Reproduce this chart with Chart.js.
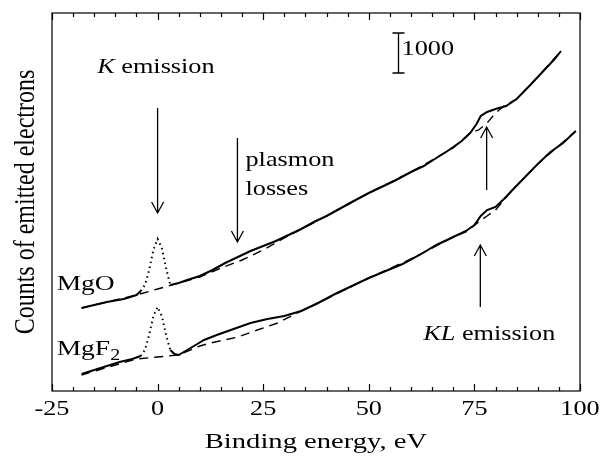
<!DOCTYPE html>
<html>
<head>
<meta charset="utf-8">
<script src="https://cdn.jsdelivr.net/npm/chart.js@4.4.1/dist/chart.umd.min.js"></script>
<style>
  html, body { margin: 0; padding: 0; background: #fff; }
</style>
</head>
<body>
<canvas id="spectrum" width="602" height="456"></canvas>
<script>
// binding energy (eV) and counts
const energyMgO = [-18, -15, -12, -8, -5, -4, -3, -2, -1, 0, 1, 2, 3, 5, 7, 10, 13, 16, 19, 22, 25, 28, 31, 34, 37, 40, 43, 46, 50, 53, 56, 60, 63, 66, 69, 72, 74, 75.5, 76.5, 78, 80, 82.5, 85, 88, 90, 92, 94, 95.5];
const countsMgO = [2075, 2150, 2225, 2300, 2400, 2500, 2650, 3025, 3525, 3800, 3575, 3075, 2650, 2700, 2775, 2875, 3025, 3200, 3350, 3500, 3625, 3750, 3900, 4050, 4225, 4375, 4550, 4725, 4950, 5100, 5250, 5475, 5625, 5825, 6025, 6250, 6450, 6675, 6875, 6975, 7050, 7125, 7300, 7625, 7850, 8075, 8300, 8500];

const energyMgOBase = [-18, -10, -5, 0, 5, 10, 15, 20, 25, 30, 35, 40, 50, 60, 70, 74, 76, 78, 80, 82, 85, 90, 95.5];
const countsMgOBase = [2075, 2275, 2400, 2550, 2700, 2850, 3075, 3275, 3525, 3825, 4100, 4375, 4950, 5475, 6075, 6450, 6525, 6700, 6950, 7125, 7300, 7850, 8500];

const energyMgF2 = [-18, -15, -12, -9, -6, -4, -3, -2, -1, 0, 1, 2, 3, 4, 5, 7, 9, 11, 14, 18, 22, 26, 30, 34, 38, 42, 46, 50, 54, 58, 62, 66, 70, 73, 75, 76.5, 78, 80, 82, 84, 87, 90, 93, 96, 99];
const countsMgF2 = [425, 525, 625, 725, 800, 875, 1025, 1400, 1875, 2100, 1875, 1400, 1025, 925, 900, 1025, 1150, 1275, 1400, 1550, 1700, 1800, 1875, 2000, 2200, 2425, 2625, 2825, 3000, 3175, 3400, 3650, 3850, 4000, 4150, 4375, 4525, 4600, 4800, 5025, 5350, 5675, 5975, 6200, 6500];

const energyMgF2Base = [-18, -10, -5, 0, 5, 10, 12.5, 19, 23.6, 28.4, 33, 38, 50, 60, 70, 73, 76, 78, 80, 82, 84, 90, 99];
const countsMgF2Base = [400, 650, 800, 850, 900, 1125, 1200, 1350, 1525, 1700, 1950, 2200, 2825, 3300, 3850, 3975, 4225, 4375, 4525, 4775, 5025, 5675, 6500];

const tickValues = [-25, 0, 25, 50, 75, 100];
const minorStep = 5;

const toPoints = (xs, ys) => xs.map((v, i) => ({ x: v, y: ys[i] }));

// dotted around the K emission peak
const peakDots = ctx => (ctx.p0.parsed.x >= -4 && ctx.p1.parsed.x <= 3.5) ? [1.5, 3.5] : undefined;

const SERIF = '"Liberation Serif", "Times New Roman", serif';

function drawText(ctx, parts, x, y, size, hs) {
  ctx.save();
  ctx.translate(x, y);
  ctx.scale(hs, 1);
  let cx = 0;
  parts.forEach(p => {
    const s = p.size || size;
    ctx.font = (p.italic ? 'italic ' : '') + s + 'px ' + SERIF;
    ctx.fillText(p.t, cx, p.dy || 0);
    cx += ctx.measureText(p.t).width;
  });
  ctx.restore();
}

function arrow(ctx, px, y0, y1) {
  // y1 is the tip
  const dir = y1 > y0 ? 1 : -1;
  ctx.beginPath();
  ctx.moveTo(px, y0);
  ctx.lineTo(px, y1);
  ctx.moveTo(px - 6, y1 - dir * 11);
  ctx.lineTo(px, y1);
  ctx.lineTo(px + 6, y1 - dir * 11);
  ctx.stroke();
}

const decorations = {
  id: 'decorations',
  afterDraw(chart) {
    const { ctx, chartArea: a, scales: { x, y } } = chart;
    ctx.save();
    ctx.strokeStyle = '#000';
    ctx.fillStyle = '#000';
    ctx.lineWidth = 1.2;
    ctx.strokeRect(a.left, a.top, a.right - a.left, a.bottom - a.top);

    // inward ticks top and bottom
    for (let v = x.min; v <= x.max; v += minorStep) {
      const px = Math.round(x.getPixelForValue(v)) + 0.5;
      const len = tickValues.includes(v) ? 7 : 4;
      ctx.beginPath();
      ctx.moveTo(px, a.bottom); ctx.lineTo(px, a.bottom - len);
      ctx.moveTo(px, a.top); ctx.lineTo(px, a.top + len);
      ctx.stroke();
    }

    // tick labels
    ctx.textBaseline = 'alphabetic';
    tickValues.forEach(v => {
      const s = String(v);
      ctx.font = '21px ' + SERIF;
      const w = ctx.measureText(s).width * 1.25;
      drawText(ctx, [{ t: s }], x.getPixelForValue(v) - w / 2, 415, 21, 1.25);
    });

    // axis titles
    ctx.font = '22px ' + SERIF;
    const tw = ctx.measureText('Binding energy, eV').width * 1.3;
    drawText(ctx, [{ t: 'Binding energy, eV' }], (a.left + a.right) / 2 - tw / 2, 448, 22, 1.3);

    ctx.save();
    ctx.translate(34, (a.top + a.bottom) / 2);
    ctx.rotate(-Math.PI / 2);
    ctx.scale(1, 1.2);
    ctx.font = '24px ' + SERIF;
    ctx.textAlign = 'center';
    ctx.fillText('Counts of emitted electrons', 0, 0);
    ctx.restore();

    ctx.lineWidth = 1.3;
    // K emission
    arrow(ctx, x.getPixelForValue(0), y.getPixelForValue(7075), y.getPixelForValue(4450));
    drawText(ctx, [{ t: 'K', italic: true }, { t: ' emission' }], x.getPixelForValue(-14.3), y.getPixelForValue(7950), 21, 1.25);

    // plasmon losses
    arrow(ctx, x.getPixelForValue(18.9), y.getPixelForValue(6325), y.getPixelForValue(3725));
    drawText(ctx, [{ t: 'plasmon' }], x.getPixelForValue(20.8), y.getPixelForValue(5625), 21, 1.25);
    drawText(ctx, [{ t: 'losses' }], x.getPixelForValue(20.8), y.getPixelForValue(4900), 21, 1.25);

    // KL emission
    arrow(ctx, x.getPixelForValue(77.9), y.getPixelForValue(5025), y.getPixelForValue(6600));
    arrow(ctx, x.getPixelForValue(76.4), y.getPixelForValue(2100), y.getPixelForValue(3650));
    drawText(ctx, [{ t: 'KL', italic: true }, { t: ' emission' }], x.getPixelForValue(62.9), y.getPixelForValue(1275), 21, 1.25);

    // 1000 counts scale bar
    const bx = Math.round(x.getPixelForValue(56.8)) + 0.5;
    const b0 = y.getPixelForValue(7950), b1 = y.getPixelForValue(8950);
    ctx.beginPath();
    ctx.moveTo(bx, b0); ctx.lineTo(bx, b1);
    ctx.moveTo(bx - 6, b0); ctx.lineTo(bx + 6, b0);
    ctx.moveTo(bx - 6, b1); ctx.lineTo(bx + 6, b1);
    ctx.stroke();
    drawText(ctx, [{ t: '1000' }], bx + 3, y.getPixelForValue(8400), 21, 1.25);

    // sample labels
    drawText(ctx, [{ t: 'MgO' }], x.getPixelForValue(-23.9), y.getPixelForValue(2525), 22, 1.25);
    drawText(ctx, [{ t: 'MgF' }, { t: '2', size: 16, dy: 5 }], x.getPixelForValue(-23.9), y.getPixelForValue(900), 22, 1.25);

    ctx.restore();
  }
};

new Chart(document.getElementById('spectrum'), {
  type: 'line',
  data: {
    datasets: [
      { data: toPoints(energyMgOBase, countsMgOBase), borderColor: '#000', borderWidth: 1.4, borderDash: [9, 6], order: 2 },
      { data: toPoints(energyMgF2Base, countsMgF2Base), borderColor: '#000', borderWidth: 1.4, borderDash: [9, 6], order: 2 },
      { data: toPoints(energyMgO, countsMgO), borderColor: '#000', borderWidth: 2, segment: { borderDash: peakDots }, order: 1 },
      { data: toPoints(energyMgF2, countsMgF2), borderColor: '#000', borderWidth: 2, segment: { borderDash: peakDots }, order: 1 }
    ]
  },
  options: {
    responsive: false,
    animation: false,
    devicePixelRatio: 1,
    layout: { padding: { left: 52, right: 22, top: 13, bottom: 65 } },
    elements: { point: { radius: 0 }, line: { tension: 0 } },
    plugins: { legend: { display: false }, tooltip: { enabled: false } },
    scales: {
      x: { type: 'linear', min: -25, max: 100, display: false },
      y: { min: 0, max: 9450, display: false }
    }
  },
  plugins: [decorations]
});
</script>
</body>
</html>
